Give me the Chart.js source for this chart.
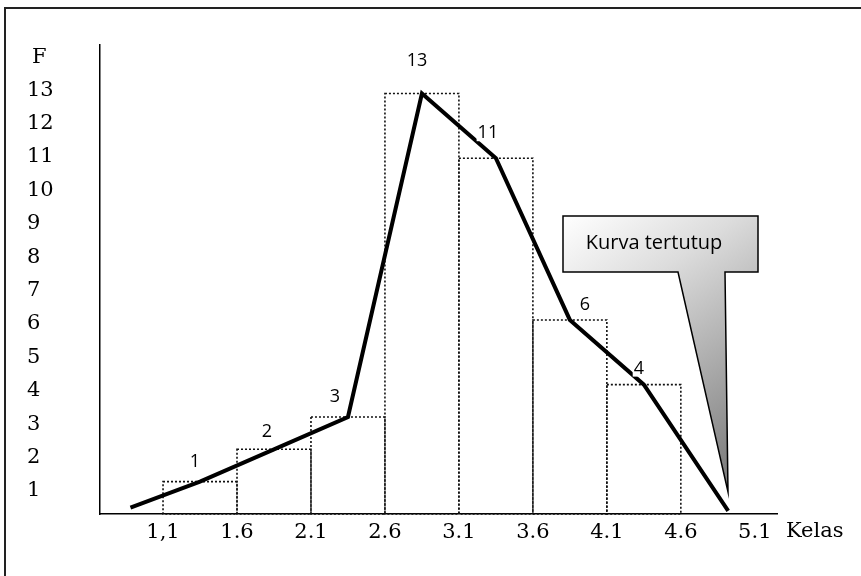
<!DOCTYPE html>
<html>
<head>
<meta charset="utf-8">
<script src="https://cdn.jsdelivr.net/npm/chart.js@4.4.0/dist/chart.umd.min.js"></script>
<style>
  html, body { margin: 0; padding: 0; background: #fff; }
  #wrap { width: 861px; height: 576px; position: relative; }
</style>
</head>
<body>
<div id="wrap"><canvas id="chart" width="861" height="576"></canvas></div>
<script>
// class marks (midpoints) and frequencies
const classMarks = [1.35, 1.85, 2.35, 2.85, 3.35, 3.85, 4.35];
const frequencies = [1, 2, 3, 13, 11, 6, 4];
// the polygon is closed down to the axis at both ends
const polygonStart = [0.88, 0.2];
const polygonEnd = [4.92, 0.1];
// class boundaries on the x axis
const xTicks = [1.1, 1.6, 2.1, 2.6, 3.1, 3.6, 4.1, 4.6, 5.1];
const xTickLabels = ['1,1', '1.6', '2.1', '2.6', '3.1', '3.6', '4.1', '4.6', '5.1'];
const yTicks = [1, 2, 3, 4, 5, 6, 7, 8, 9, 10, 11, 12, 13];

const serif = '"DejaVu Serif", serif';
const sans = '"Open Sans", sans-serif';

const polygon = [{ x: polygonStart[0], y: polygonStart[1] }]
    .concat(classMarks.map((x, i) => ({ x: x, y: frequencies[i] })))
    .concat([{ x: polygonEnd[0], y: polygonEnd[1] }]);

const drawing = {
    id: 'drawing',
    beforeDraw(chart) {
        const ctx = chart.ctx;
        ctx.save();
        ctx.strokeStyle = '#222';
        ctx.lineWidth = 2;
        ctx.strokeRect(5, 8, 900, 600);
        ctx.restore();
    },
    afterDatasetDraw(chart, args) {
        if (args.index !== 1) return;
        // dotted histogram bars
        const ctx = chart.ctx;
        ctx.save();
        ctx.strokeStyle = '#111';
        ctx.lineWidth = 1.6;
        ctx.setLineDash([2, 2]);
        args.meta.data.forEach(bar => {
            const p = bar.getProps(['x', 'y', 'base', 'width'], true);
            ctx.strokeRect(p.x - p.width / 2, p.y, p.width, p.base - p.y);
        });
        ctx.restore();
    },
    afterDatasetsDraw(chart) {
        const ctx = chart.ctx;
        const pts = chart.getDatasetMeta(0).data;
        const offsets = [[-5, -20], [-7, -17], [-13, -20], [-5, -33], [-8, -25], [15, -15], [-5, -16]];
        ctx.save();
        ctx.font = '18px ' + sans;
        ctx.textAlign = 'center';
        ctx.textBaseline = 'middle';
        frequencies.forEach((f, i) => {
            const p = pts[i + 1];
            const tx = p.x + offsets[i][0], ty = p.y + offsets[i][1];
            const w = ctx.measureText(String(f)).width;
            ctx.fillStyle = '#fff';
            ctx.fillRect(tx - w / 2 - 1, ty - 8, w + 2, 16);
            ctx.fillStyle = '#000';
            ctx.fillText(String(f), tx, ty);
        });

        // callout "Kurva tertutup"
        const grad = ctx.createLinearGradient(563, 216, 760, 492);
        grad.addColorStop(0, '#ffffff');
        grad.addColorStop(0.3, '#dcdcdc');
        grad.addColorStop(1, '#6e6e6e');
        ctx.beginPath();
        ctx.moveTo(563, 216);
        ctx.lineTo(758, 216);
        ctx.lineTo(758, 272);
        ctx.lineTo(725, 272);
        ctx.lineTo(728, 492);
        ctx.lineTo(678, 272);
        ctx.lineTo(563, 272);
        ctx.closePath();
        ctx.fillStyle = grad;
        ctx.fill();
        ctx.strokeStyle = '#000';
        ctx.lineWidth = 1.5;
        ctx.stroke();
        ctx.fillStyle = '#000';
        ctx.font = '20px ' + sans;
        ctx.fillText('Kurva tertutup', 654, 243);

        // axis names
        ctx.font = '21px ' + serif;
        ctx.textAlign = 'left';
        ctx.fillText('F', 32, 58);
        ctx.fillText('Kelas', 786, 532);
        ctx.restore();
    }
};

new Chart(document.getElementById('chart'), {
    data: {
        datasets: [{
            type: 'line',
            data: polygon,
            borderColor: '#000',
            borderWidth: 4,
            pointRadius: 0,
            tension: 0,
            yAxisID: 'y'
        }, {
            type: 'bar',
            data: classMarks.map((x, i) => ({ x: x, y: frequencies[i] })),
            backgroundColor: 'rgba(0,0,0,0)',
            borderWidth: 0,
            barPercentage: 1,
            categoryPercentage: 1,
            yAxisID: 'y'
        }]
    },
    options: {
        responsive: false,
        animation: false,
        events: [],
        layout: { padding: { left: 27, top: 45, right: 84, bottom: 32 } },
        plugins: { legend: { display: false }, tooltip: { enabled: false } },
        scales: {
            x: {
                type: 'linear',
                position: 'bottom',
                offset: false,
                min: 0.674,
                max: 5.25,
                grid: { display: false, drawTicks: false, offset: false },
                border: { color: '#000', width: 1.5 },
                afterBuildTicks: axis => { axis.ticks = xTicks.map(v => ({ value: v })); },
                afterFit: axis => { axis.height = 30; },
                ticks: {
                    autoSkip: false,
                    maxRotation: 0,
                    padding: 6,
                    color: '#000',
                    font: { family: serif, size: 21 },
                    callback: (v, i) => xTickLabels[i]
                }
            },
            y: {
                type: 'linear',
                display: false,
                min: 0,
                max: 14.5
            },
            yLabels: {
                type: 'linear',
                position: 'left',
                min: 0.31,
                max: 14.35,
                grid: { display: false, drawTicks: false },
                border: { color: '#000', width: 1.5 },
                afterBuildTicks: axis => { axis.ticks = yTicks.map(v => ({ value: v })); },
                afterFit: axis => { axis.width = 73; },
                ticks: {
                    crossAlign: 'far',
                    padding: 0,
                    color: '#000',
                    font: { family: serif, size: 21 },
                    callback: v => String(v)
                }
            }
        }
    },
    plugins: [drawing]
});
</script>
</body>
</html>
